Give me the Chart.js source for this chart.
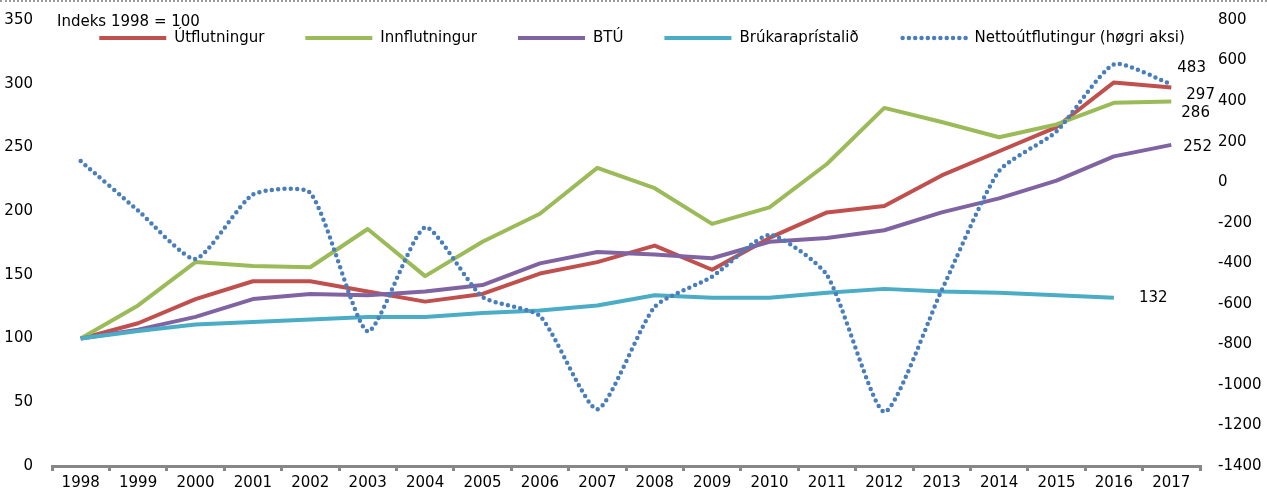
<!DOCTYPE html>
<html>
<head>
<meta charset="utf-8">
<title>Útflutningur og innflutningur</title>
<script src="https://cdn.jsdelivr.net/npm/chart.js@4.4.1/dist/chart.umd.min.js"></script>
<style>
  html, body { margin: 0; padding: 0; background: #fff; }
  #wrap { position: relative; width: 1267px; height: 491px; }
  #topline { position: absolute; left: 0; top: 0; width: 1267px; border-top: 2px dotted #9a9a9a; }
</style>
</head>
<body>
<div id="wrap">
  <canvas id="handilChart"></canvas>
  <div id="topline"></div>
</div>
<script>
// Data
var aar = ['1998', '1999', '2000', '2001', '2002', '2003', '2004', '2005', '2006', '2007',
           '2008', '2009', '2010', '2011', '2012', '2013', '2014', '2015', '2016', '2017'];
var utflutningur = [100, 112, 131, 145, 145, 137, 129, 135, 151, 160, 173, 154, 179, 199, 204, 228, 247, 266, 301, 297];
var innflutningur = [100, 126, 160, 157, 156, 186, 149, 176, 198, 234, 218, 190, 203, 237, 281, 270, 258, 268, 285, 286];
var btu = [100, 107, 117, 131, 135, 134, 137, 142, 159, 168, 166, 163, 176, 179, 185, 199, 210, 224, 243, 252];
var brukaraprisir = [100, 106, 111, 113, 115, 117, 117, 120, 122, 126, 134, 132, 132, 136, 139, 137, 136, 134, 132, null];
var nettoutflutingur = [104, -140, -379, -61, -53, -736, -223, -566, -660, -1120, -615, -466, -260, -458, -1133, -533, 55, 250, 581, 483];
var vinstriTicks = [0, 350, 50];     // min, max, step
var hoegriTicks = [-1400, 800, 200]; // min, max, step

Chart.defaults.font.family = '"DejaVu Sans", Verdana, sans-serif';
Chart.defaults.font.size = 15;
Chart.defaults.color = '#000';

// labels at the end of each line (offsets in px from the last point)
var endaOffset = [[15, 8], [10, 12], [12, 2], [25, 0], [6, -16]];

var endaLabels = {
    id: 'endaLabels',
    afterDatasetsDraw: function (chart) {
        var ctx = chart.ctx;
        ctx.save();
        ctx.font = '15px "DejaVu Sans"';
        ctx.fillStyle = '#000';
        ctx.textBaseline = 'middle';
        chart.data.datasets.forEach(function (ds, i) {
            var meta = chart.getDatasetMeta(i);
            var last = ds.data.length - 1;
            while (ds.data[last] === null) last--;
            var p = meta.data[last];
            ctx.fillText(String(Math.round(ds.data[last])), p.x + endaOffset[i][0], p.y + endaOffset[i][1]);
        });
        // axis note
        ctx.fillText('Indeks 1998 = 100', chart.chartArea.left + 5, chart.chartArea.top + 2);
        ctx.restore();
    }
};

var eginLegend = {
    id: 'eginLegend',
    afterDraw: function (chart) {
        var ctx = chart.ctx;
        var linjaLongd = 67, textGap = 8, itemGap = 41;
        ctx.save();
        ctx.font = '15px "DejaVu Sans"';
        var breiddir = chart.data.datasets.map(function (ds) {
            return linjaLongd + textGap + ctx.measureText(ds.label).width;
        });
        var samla = breiddir.reduce(function (a, b) { return a + b; }, 0) + itemGap * (breiddir.length - 1);
        var x = (chart.chartArea.left + chart.chartArea.right) / 2 - samla / 2 + 16;
        var y = chart.chartArea.top + 18;
        chart.data.datasets.forEach(function (ds, i) {
            ctx.beginPath();
            ctx.strokeStyle = ds.borderColor;
            ctx.lineWidth = ds.borderWidth;
            ctx.lineCap = ds.borderCapStyle || 'butt';
            ctx.setLineDash(ds.borderDash || []);
            ctx.moveTo(x + (ds.borderDash ? 3 : 0), y);
            ctx.lineTo(x + linjaLongd, y);
            ctx.stroke();
            ctx.setLineDash([]);
            ctx.fillStyle = '#000';
            ctx.textBaseline = 'middle';
            ctx.fillText(ds.label, x + linjaLongd + textGap, y);
            x += breiddir[i] + itemGap;
        });
        ctx.restore();
    }
};

var ctx = document.getElementById('handilChart').getContext('2d');

var myChart = new Chart(ctx, {
    type: 'line',
    data: {
        labels: aar,
        datasets: [{
            label: 'Útflutningur',
            data: utflutningur,
            borderColor: '#C0504D',
            borderWidth: 4,
            yAxisID: 'y',
            order: 5
        }, {
            label: 'Innflutningur',
            data: innflutningur,
            borderColor: '#9BBB59',
            borderWidth: 4,
            yAxisID: 'y',
            order: 4
        }, {
            label: 'BTÚ',
            data: btu,
            borderColor: '#8064A2',
            borderWidth: 4,
            yAxisID: 'y',
            order: 3
        }, {
            label: 'Brúkaraprístalið',
            data: brukaraprisir,
            borderColor: '#4BACC6',
            borderWidth: 4,
            yAxisID: 'y',
            order: 2
        }, {
            label: 'Nettoútflutingur (høgri aksi)',
            data: nettoutflutingur,
            borderColor: '#4A7EBB',
            borderWidth: 4.5,
            borderDash: [0, 6.3],
            borderCapStyle: 'round',
            tension: 0.2,
            yAxisID: 'y1',
            order: 1
        }]
    },
    options: {
        responsive: true,
        maintainAspectRatio: false,
        animation: false,
        elements: {
            point: { radius: 0, hoverRadius: 0 },
            line: { borderJoinStyle: 'round', fill: false }
        },
        layout: {
            padding: { top: 10, left: 0, right: 0, bottom: 0 }
        },
        scales: {
            x: {
                type: 'category',
                offset: true,
                grid: {
                    display: true,
                    drawOnChartArea: false,
                    drawTicks: true,
                    tickLength: 5,
                    color: '#878787',
                    lineWidth: 3,
                    offset: true
                },
                border: { display: true, color: '#878787', width: 3 },
                ticks: { padding: 3, maxRotation: 0, autoSkip: false },
                afterFit: function (s) { s.height = 25; }
            },
            y: {
                position: 'left',
                min: vinstriTicks[0],
                max: vinstriTicks[1],
                ticks: { stepSize: vinstriTicks[2], padding: 11 },
                grid: { display: false },
                border: { display: false },
                afterFit: function (s) { s.width = 52; }
            },
            y1: {
                position: 'right',
                min: hoegriTicks[0],
                max: hoegriTicks[1],
                ticks: {
                    stepSize: hoegriTicks[2],
                    padding: 10,
                    callback: function (v) { return String(v); }
                },
                grid: { display: false },
                border: { display: false },
                afterFit: function (s) { s.width = 67; }
            }
        },
        plugins: {
            legend: { display: false },
            tooltip: { enabled: false }
        }
    },
    plugins: [endaLabels, eginLegend]
});
</script>
</body>
</html>
